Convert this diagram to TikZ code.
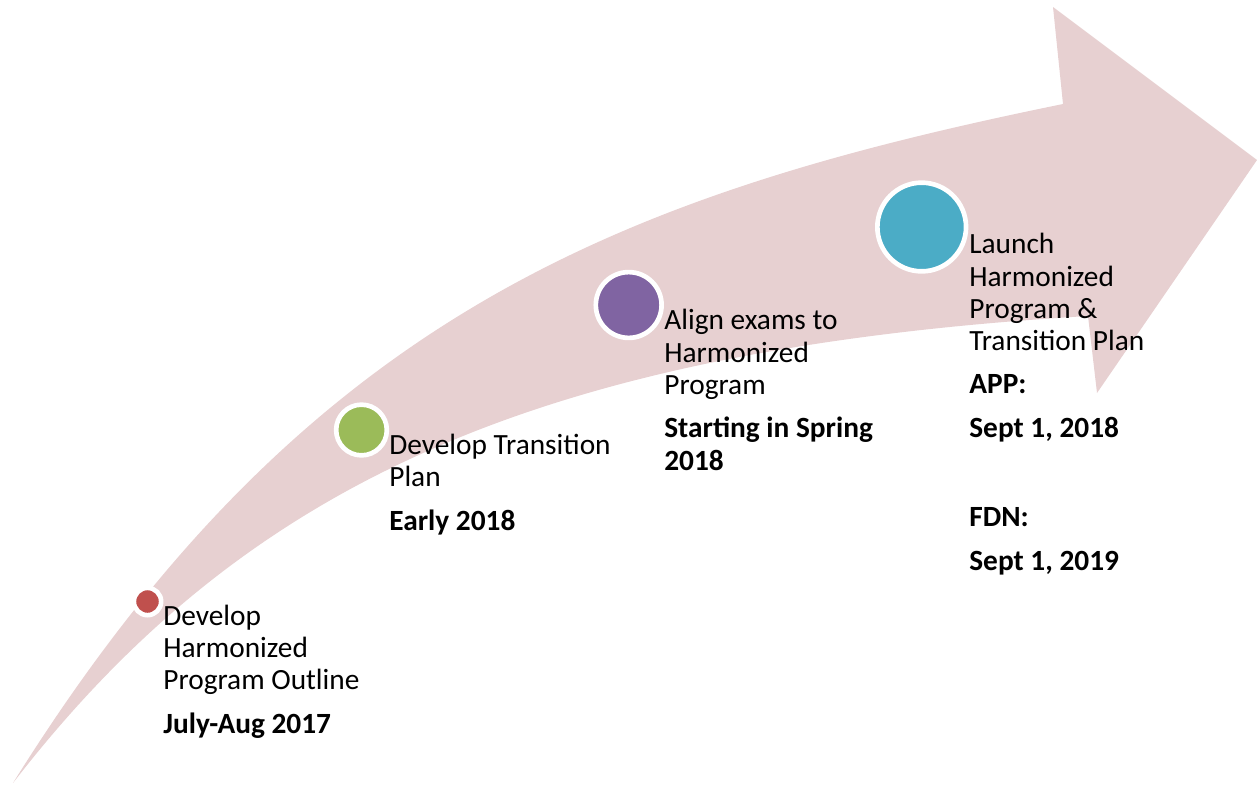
\documentclass[tikz,border=0pt]{standalone}
\usepackage{fontspec}
\setmainfont{Carlito}

\definecolor{arrowpink}{RGB}{231,208,209}
\definecolor{dotred}{RGB}{192,80,77}
\definecolor{dotgreen}{RGB}{155,187,89}
\definecolor{dotpurple}{RGB}{128,100,162}
\definecolor{dotblue}{RGB}{75,172,198}

\tikzset{
  dot/.style={circle, draw=white, line width=2.66pt, inner sep=0pt},
  stage/.style={anchor=base west, align=left, inner sep=0pt,
    font=\fontsize{16.7}{18.4}\selectfont},
}

\begin{document}
\begin{tikzpicture}[x=0.02cm, y=-0.02cm]
    \useasboundingbox (0,0) rectangle (1257,785);
    \coordinate (tail) at (13,783);
    \coordinate (upper) at (1063,104);
    \coordinate (headtop) at (1053,7);
    \coordinate (headtip) at (1257,160);
    \coordinate (headbottom) at (1097,393);
    \coordinate (lower) at (1088,316);
    \fill[arrowpink] (tail) .. controls (305,315) and (622,194) .. (upper)
        -- (headtop) -- (headtip) -- (headbottom) -- (lower)
        .. controls (538,349) and (245,483) .. (tail) -- cycle;

    \node[dot, fill=dotred, minimum size=0.546cm] (outline) at (147.5,601.5) {};
    \node[dot, fill=dotgreen, minimum size=1.014cm] (transition) at (361.5,430) {};
    \node[dot, fill=dotpurple, minimum size=1.316cm] (exams) at (628.7,305) {};
    \node[dot, fill=dotblue, minimum size=1.774cm] (launch) at (921.7,227) {};

    \node[stage] (outlinetext) at (163,733)
      {Develop\\Harmonized\\Program Outline\\[6.2pt]\textbf{July-Aug 2017}};
    \node[stage] (transitiontext) at (389,530)
      {Develop Transition\\Plan\\[6.2pt]\textbf{Early 2018}};
    \node[stage] (examstext) at (664,470)
      {Align exams to\\Harmonized\\Program\\[6.2pt]\textbf{Starting in Spring}\\\textbf{2018}};
    \node[stage] (launchtext) at (969,570)
      {Launch\\Harmonized\\Program \&\\Transition Plan\\[6.2pt]\textbf{APP:}\\[6.2pt]
       \textbf{Sept 1, 2018}\\[32.6pt]\textbf{FDN:}\\[6.2pt]\textbf{Sept 1, 2019}};
\end{tikzpicture}
\end{document}
